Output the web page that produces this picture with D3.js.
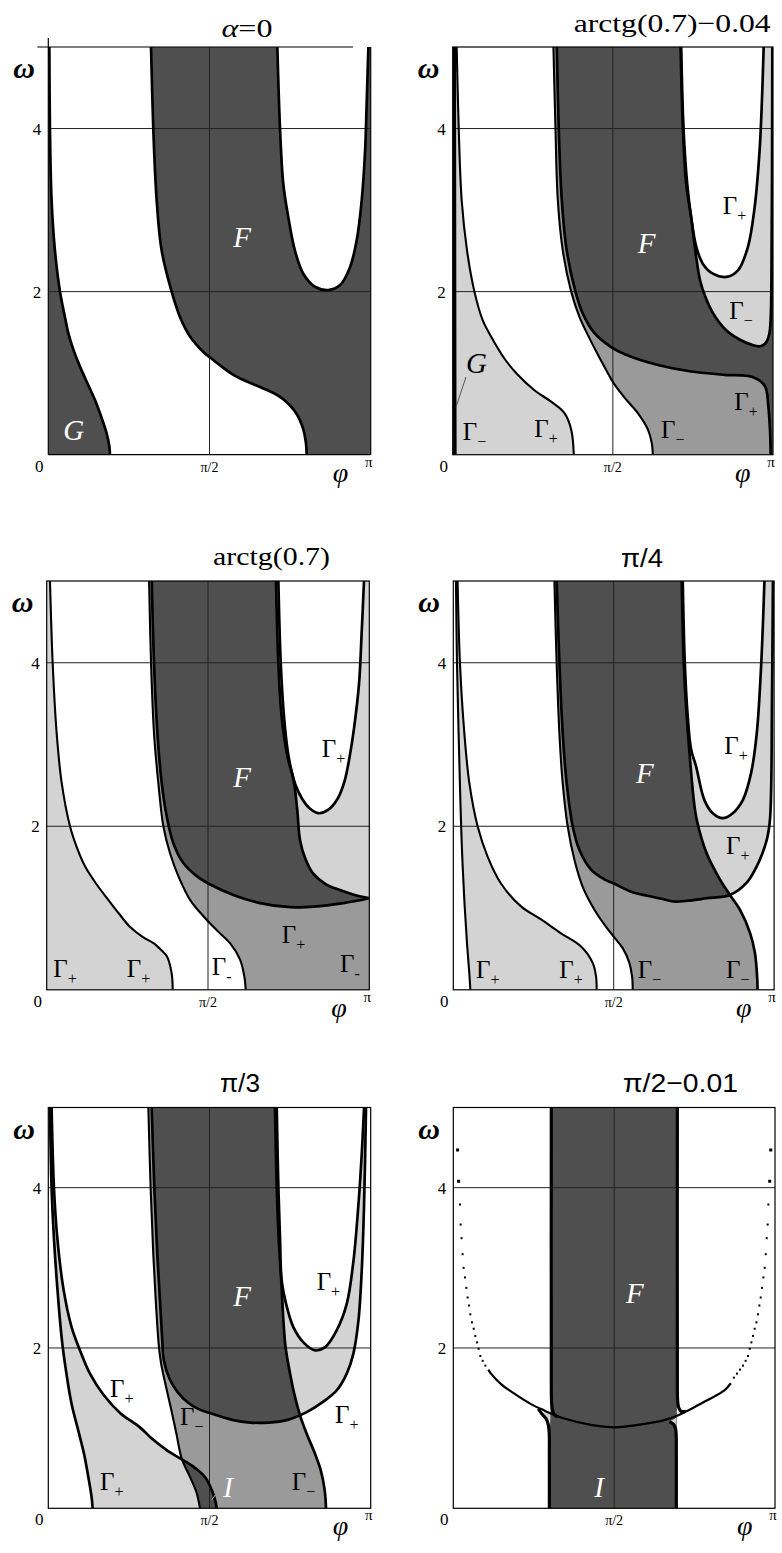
<!DOCTYPE html>
<html><head><meta charset="utf-8">
<script src="https://cdn.jsdelivr.net/npm/d3@7"></script>
<style>body{margin:0;background:#fff}</style>
</head><body>
<svg id="chart" width="782" height="1553" xmlns="http://www.w3.org/2000/svg"></svg>
<script>
const PI = Math.PI;

// ---------- data: curves as [phi, omega] ----------
// panel 1 : alpha = 0
const p1A = [[0.010,5.0],[0.016,4.0],[0.032,3.12],[0.065,2.5],[0.114,2.0],[0.162,1.69],[0.195,1.49],[0.247,1.28],[0.309,1.08],[0.380,0.88],[0.455,0.67],[0.520,0.45],[0.569,0.26],[0.595,0.10],[0.601,0]];
const p1B = [[1.001,5.0],[1.023,4.0],[1.056,3.12],[1.105,2.5],[1.202,2.0],[1.283,1.69],[1.381,1.45],[1.511,1.26],[1.569,1.20],[1.690,1.08],[1.803,0.98],[1.930,0.90],[2.063,0.83],[2.190,0.76],[2.290,0.68],[2.420,0.50],[2.485,0.31],[2.510,0.15],[2.518,0]];
const p1C = [[2.232,5.0],[2.258,4.0],[2.290,3.32],[2.339,2.91],[2.404,2.5],[2.485,2.22],[2.599,2.06],[2.729,2.02],[2.843,2.08],[2.940,2.30],[3.005,2.63],[3.054,3.12],[3.087,3.73],[3.103,4.34],[3.119,5.0]];
// panel 2 : arctg(0.7)-0.04
const p2G  = [[0.016,5.0],[0.018,3.0],[0.020,1.0],[0.022,0]];
const p2A  = [[0.039,5.0],[0.059,4.0],[0.088,3.12],[0.141,2.5],[0.213,2.0],[0.294,1.65],[0.376,1.45],[0.507,1.18],[0.638,0.98],[0.802,0.79],[0.965,0.65],[1.096,0.51],[1.162,0.31],[1.188,0]];
const p2B  = [[0.988,5.0],[1.008,4.0],[1.031,3.12],[1.080,2.5],[1.162,2.0],[1.243,1.69],[1.325,1.47],[1.423,1.23],[1.505,1.04],[1.577,0.88],[1.685,0.70],[1.816,0.51],[1.914,0.31],[1.953,0.14],[1.963,0]];
const p2Bf = [[1.021,5.0],[1.040,4.0],[1.070,3.12],[1.119,2.5],[1.204,2.0],[1.276,1.73],[1.391,1.49],[1.554,1.32],[1.751,1.20],[2.012,1.10],[2.339,1.02],[2.667,0.98],[2.948,0.95],[3.063,0.84],[3.096,0.59],[3.112,0.31],[3.119,0]];
const p2D  = [[2.235,5.0],[2.258,4.0],[2.290,3.32],[2.339,2.91],[2.380,2.5],[2.426,2.14],[2.480,1.93],[2.556,1.73],[2.680,1.53],[2.818,1.41],[2.930,1.35],[3.014,1.33],[3.070,1.37],[3.105,1.48],[3.120,1.70],[3.127,2.30],[3.132,3.5],[3.135,5.0]];
const p2C  = [[2.241,5.0],[2.264,4.0],[2.300,3.32],[2.339,2.91],[2.389,2.55],[2.454,2.34],[2.552,2.22],[2.683,2.18],[2.798,2.26],[2.896,2.55],[2.961,3.03],[3.010,3.73],[3.033,4.34],[3.050,5.0]];
// panel 3 : arctg(0.7)
const p3A  = [[0.032,5.0],[0.058,4.0],[0.097,3.14],[0.146,2.53],[0.227,2.0],[0.300,1.72],[0.373,1.51],[0.480,1.30],[0.600,1.10],[0.705,0.93],[0.810,0.77],[0.930,0.65],[1.040,0.57],[1.120,0.48],[1.170,0.41],[1.217,0.20],[1.227,0]];
const p3B  = [[0.997,5.0],[1.016,4.0],[1.045,3.14],[1.087,2.53],[1.136,2.0],[1.201,1.67],[1.282,1.39],[1.396,1.10],[1.526,0.90],[1.655,0.73],[1.785,0.57],[1.883,0.37],[1.925,0.16],[1.938,0]];
const p3Bf = [[1.023,5.0],[1.045,4.0],[1.078,3.14],[1.120,2.53],[1.169,2.12],[1.234,1.79],[1.331,1.55],[1.461,1.39],[1.574,1.30],[1.818,1.16],[2.077,1.06],[2.370,1.01],[2.629,1.02],[2.889,1.06],[3.142,1.12]];
const p3D  = [[2.233,5.0],[2.256,4.0],[2.288,3.34],[2.345,2.85],[2.405,2.56],[2.440,2.20],[2.467,1.83],[2.520,1.60],[2.596,1.42],[2.720,1.29],[2.856,1.22],[3.000,1.16],[3.142,1.12]];
const p3C  = [[2.256,5.0],[2.279,4.0],[2.311,3.34],[2.345,2.94],[2.380,2.70],[2.425,2.50],[2.490,2.33],[2.560,2.22],[2.646,2.16],[2.740,2.20],[2.830,2.33],[2.900,2.55],[2.950,2.85],[2.993,3.20],[3.042,3.75],[3.067,4.36],[3.090,5.0]];
// panel 4 : pi/4
const p4Al = [[0.026,5.0],[0.036,4.0],[0.052,3.14],[0.069,2.32],[0.085,1.71],[0.108,1.10],[0.134,0.57],[0.157,0.20],[0.167,0]];
const p4A  = [[0.042,5.0],[0.065,4.0],[0.108,3.14],[0.157,2.53],[0.238,2.0],[0.336,1.63],[0.467,1.30],[0.663,1.02],[0.859,0.86],[1.055,0.69],[1.251,0.53],[1.365,0.33],[1.398,0.16],[1.404,0]];
const p4B  = [[0.990,5.0],[1.012,4.0],[1.039,3.14],[1.071,2.53],[1.120,2.0],[1.186,1.59],[1.267,1.26],[1.382,0.98],[1.496,0.77],[1.571,0.65],[1.659,0.51],[1.724,0.33],[1.751,0.16],[1.757,0]];
const p4E  = [[1.012,5.0],[1.039,4.0],[1.071,3.14],[1.110,2.53],[1.169,2.0],[1.235,1.71],[1.349,1.47],[1.480,1.35],[1.571,1.30],[1.741,1.20],[1.900,1.15],[2.050,1.11],[2.154,1.08],[2.300,1.09],[2.481,1.12],[2.709,1.16],[2.873,1.31],[2.987,1.55],[3.069,1.83],[3.101,2.08],[3.121,3.55],[3.130,5.0]];
const p4D  = [[2.237,5.0],[2.257,4.0],[2.286,3.34],[2.319,2.81],[2.355,2.32],[2.384,2.08],[2.481,1.67],[2.611,1.35],[2.709,1.16],[2.807,0.98],[2.905,0.70],[2.954,0.45],[2.977,0.12],[2.979,0]];
const p4C  = [[2.247,5.0],[2.267,4.0],[2.296,3.34],[2.329,2.94],[2.378,2.73],[2.459,2.32],[2.541,2.16],[2.639,2.10],[2.737,2.16],[2.835,2.32],[2.916,2.65],[2.972,3.14],[3.014,3.95],[3.047,5.0]];
// panel 5 : pi/3
const p5Al = [[0.016,5.0],[0.032,4.0],[0.055,3.37],[0.088,2.75],[0.130,2.13],[0.172,1.72],[0.227,1.30],[0.292,0.97],[0.348,0.68],[0.390,0.39],[0.422,0.14],[0.432,0]];
const p5A  = [[0.032,5.0],[0.055,4.0],[0.088,3.37],[0.146,2.75],[0.227,2.26],[0.309,1.97],[0.406,1.68],[0.536,1.42],[0.699,1.19],[0.893,1.01],[1.000,0.88],[1.150,0.73],[1.313,0.60],[1.413,0.52],[1.527,0.39],[1.592,0.23],[1.630,0.08],[1.641,0]];
const p5B  = [[0.975,5.0],[0.997,4.0],[1.023,3.17],[1.049,2.55],[1.079,2.0],[1.100,1.80],[1.150,1.50],[1.200,1.22],[1.250,0.92],[1.300,0.62],[1.381,0.39],[1.446,0.19],[1.478,0]];
const p5E  = [[1.007,5.0],[1.033,4.0],[1.062,3.17],[1.090,2.55],[1.110,2.1],[1.125,1.85],[1.180,1.62],[1.260,1.45],[1.360,1.32],[1.460,1.24],[1.569,1.19],[1.803,1.10],[1.965,1.07],[2.150,1.07],[2.323,1.10],[2.518,1.20],[2.680,1.33],[2.810,1.47],[2.908,1.68],[2.973,1.93],[3.022,2.34],[3.054,2.96],[3.077,3.79],[3.096,5.0]];
const p5D  = [[2.209,5.0],[2.226,4.0],[2.245,3.37],[2.274,2.75],[2.291,2.34],[2.313,2.0],[2.356,1.68],[2.404,1.39],[2.453,1.16],[2.518,0.93],[2.599,0.68],[2.654,0.48],[2.693,0.23],[2.706,0]];
const p5C  = [[2.226,5.0],[2.242,4.0],[2.258,3.37],[2.274,2.84],[2.317,2.55],[2.388,2.26],[2.486,2.07],[2.599,1.97],[2.697,2.01],[2.810,2.22],[2.908,2.55],[2.973,3.08],[3.022,3.79],[3.054,4.41],[3.077,5.0]];
// panel 6 : pi/2-0.01
const p6DotsL = [[0.042,4.47],[0.052,4.08],[0.065,3.79],[0.072,3.54],[0.081,3.37],[0.091,3.17],[0.101,3.00],[0.114,2.88],[0.127,2.75],[0.140,2.63],[0.153,2.53],[0.166,2.42],[0.182,2.32],[0.199,2.24],[0.215,2.15],[0.231,2.07],[0.247,1.99],[0.264,1.90],[0.287,1.84],[0.313,1.78]];
const p6DotsR = [[3.100,4.47],[3.090,4.08],[3.077,3.79],[3.070,3.54],[3.061,3.37],[3.051,3.17],[3.041,3.00],[3.028,2.88],[3.015,2.75],[3.002,2.63],[2.989,2.53],[2.976,2.42],[2.960,2.32],[2.943,2.24],[2.927,2.15],[2.911,2.07],[2.895,1.99],[2.878,1.90],[2.855,1.84],[2.829,1.78],[2.800,1.73],[2.770,1.68],[2.740,1.63]];
const p6U  = [[0.342,1.73],[0.368,1.68],[0.466,1.55],[0.596,1.43],[0.759,1.30],[0.889,1.22],[0.957,1.18],[1.084,1.12],[1.345,1.04],[1.573,1.01],[1.801,1.04],[2.061,1.10],[2.198,1.16],[2.322,1.24],[2.484,1.35],[2.647,1.47],[2.710,1.56]];
const p6LU = [[0.957,5.0],[0.957,1.60],[0.959,1.35],[0.966,1.24],[0.985,1.17],[1.020,1.14]];
const p6LL = [[0.938,0],[0.938,0.70],[0.937,0.93],[0.928,1.04],[0.905,1.12],[0.870,1.17],[0.830,1.24]];
const p6RU = [[2.188,5.0],[2.188,1.60],[2.190,1.36],[2.200,1.26],[2.225,1.21],[2.270,1.21]];
const p6RL = [[2.178,0],[2.178,0.70],[2.177,0.90],[2.170,1.00],[2.150,1.05],[2.110,1.08]];
const p6WL = [[0.937,0.93],[0.928,1.04],[0.905,1.12],[0.870,1.17],[0.889,1.22],[0.945,1.19]];
const p6WR = [[2.177,0.90],[2.170,1.00],[2.150,1.05],[2.110,1.08],[2.178,1.13]];
const p6WU = [[2.190,1.36],[2.200,1.26],[2.225,1.21],[2.270,1.21],[2.198,1.17]];

// ---------- texts ----------
const titles = ['α=0', 'arctg(0.7)−0.04', 'arctg(0.7)', 'π/4', 'π/3', 'π/2−0.01'];
const yTickValues = [2, 4];
const xTickValues = [0, PI/2];
const xTickText = ['0', 'π/2'];

// ---------- layout (pixels) ----------
const layouts = [
  {L:48.3, R:370.7, T:47,    B:454.7},
  {L:452.7,R:773,   T:47,    B:454.7},
  {L:46.7, R:369.3, T:581,   B:989.8},
  {L:453.3,R:774.1, T:581,   B:989.8},
  {L:48.3, R:370.7, T:1107.5,B:1508.3},
  {L:453.3,R:775,   T:1107.5,B:1508.3}
];
const titleStyle = [
  {dx:198.7, dy:-10, anchor:'middle', w:51, font:'serif'},
  {dx:318,   dy:-15, anchor:'end',    w:197, font:'serif'},
  {dx:166.3, dy:-16, anchor:'start',  w:117, font:'serif'},
  {dx:188.7, dy:-14, anchor:'middle', w:42, font:'sans'},
  {dx:191.7, dy:-16, anchor:'middle', w:40, font:'sans'},
  {dx:227.2, dy:-16, anchor:'middle', w:115, font:'sans'}
];

const DARK = '#4f4f4f', MED = '#9a9a9a', LIGHT = '#d3d3d3', WHITE = '#ffffff';
const SERIF = "'Liberation Serif','Times New Roman',serif";
const SANS = "'Liberation Sans',Arial,sans-serif";
const TH = 2.7, TN = 2.1; // thick / normal curve widths

const G = (sub, at) => ({t:'Γ', sub, at});
const panels = [
  { fills:[ {shape:'leftOf',args:[p1A],color:DARK}, {shape:'rightOf',args:[p1B],color:DARK}, {shape:'inside',args:[p1C],color:WHITE} ],
    strokes:[[p1A,TH],[p1B,TH],[p1C,TH]],
    labels:[ {t:'F',at:[1.802,2.551],white:true}, {t:'G',at:[0.146,0.18],white:true} ] },
  { fills:[ {shape:'leftOf',args:[p2A],color:LIGHT}, {shape:'leftOf',args:[p2G],color:DARK}, {shape:'rightOf',args:[p2B],color:MED},
            {shape:'rightOf',args:[p2Bf],color:DARK}, {shape:'inside',args:[p2D],color:LIGHT}, {shape:'inside',args:[p2C],color:WHITE} ],
    strokes:[[p2G,3.4],[p2A,TN],[p2B,TN],[p2Bf,TH],[p2D,TH],[p2C,TH]],
    leader:[[0.130,0.953],[0.032,0.581]],
    labels:[ {t:'F',at:[1.815,2.474],white:true}, G('+',[2.648,2.958]), G('−',[2.713,1.670]), G('−',[0.098,0.180]),
             G('+',[0.800,0.217]), G('−',[2.043,0.199]), G('+',[2.762,0.548]), {t:'G',at:[0.130,1.002],white:false} ] },
  { fills:[ {shape:'leftOf',args:[p3A],color:LIGHT}, {shape:'rightOf',args:[p3B],color:MED}, {shape:'above',args:[p3Bf],color:DARK},
            {shape:'above',args:[p3D],color:LIGHT}, {shape:'inside',args:[p3C],color:WHITE} ],
    strokes:[[p3A,TN],[p3B,TN],[p3Bf,TH],[p3D,TH],[p3C,TH]],
    labels:[ {t:'F',at:[1.817,2.484],white:true}, G('+',[2.678,2.847]), G('+',[0.064,0.157]), G('+',[0.779,0.157]),
             G('-',[1.607,0.181]), G('+',[2.289,0.572]), G('-',[2.856,0.218]) ] },
  { fills:[ {shape:'between',args:[p4Al,p4A],color:LIGHT}, {shape:'between',args:[p4B,p4D],color:MED}, {shape:'inside',args:[p4E],color:LIGHT},
            {shape:'inside',args:[p4E],color:DARK,clip:{shape:'leftOf',args:[p4D]}}, {shape:'inside',args:[p4C],color:WHITE} ],
    strokes:[[p4Al,TN],[p4A,TN],[p4B,TN],[p4E,TH],[p4D,TH],[p4C,TH]],
    labels:[ {t:'F',at:[1.789,2.529],white:true}, G('+',[2.654,2.884]), G('+',[2.671,1.661]), G('+',[0.222,0.144]),
             G('+',[1.038,0.144]), G('−',[1.806,0.144]), G('−',[2.671,0.144]) ] },
  { fills:[ {shape:'between',args:[p5Al,p5A],color:LIGHT}, {shape:'between',args:[p5B,p5D],color:MED},
            {shape:'between',args:[p5B,p5D],color:DARK,clip:{shape:'between',args:[p5Al,p5A]}},
            {shape:'inside',args:[p5E],color:LIGHT}, {shape:'inside',args:[p5E],color:DARK,clip:{shape:'leftOf',args:[p5D]}},
            {shape:'inside',args:[p5C],color:WHITE} ],
    strokes:[[p5Al,TH],[p5A,TH],[p5B,TN],[p5E,TH],[p5D,TH],[p5C,TH]],
    leader:[[1.738,0.374],[1.592,0.104]],
    labels:[ {t:'F',at:[1.803,2.524],white:true}, G('+',[2.615,2.723]), G('+',[0.601,1.39]), G('−',[1.283,1.039]),
             G('+',[2.794,1.064]), {t:'I',at:[1.705,0.145],white:true}, G('+',[0.504,0.228]), G('−',[2.372,0.228]) ] },
  { fills:[ {shape:'poly',args:[[p6LU[0],p6LU[1],p6LL[1],p6LL[0],p6RL[0],p6RL[1],p6RU[1],p6RU[0]]],color:DARK},
            {shape:'poly',args:[p6WL],color:LIGHT}, {shape:'poly',args:[p6WR],color:LIGHT}, {shape:'poly',args:[p6WU],color:LIGHT} ],
    strokes:[[p6LU,3.2],[p6LL,3.2],[p6RU,3.2],[p6RL,3.2],[p6U,2.2]],
    dots:[p6DotsL, p6DotsR],
    labels:[ {t:'F',at:[1.686,2.561],white:true}, {t:'I',at:[1.377,0.145],white:true} ] }
];

// ---------- drawing ----------
const svg = d3.select('#chart');
const defs = svg.append('defs');
svg.append('rect').attr('width',782).attr('height',1553).attr('fill','#fff');

panels.forEach((p, i) => {
  const lay = layouts[i];
  const x = d3.scaleLinear().domain([0, PI]).range([lay.L, lay.R]);
  const y = d3.scaleLinear().domain([0, 5]).range([lay.B, lay.T]);
  const line = d3.line().x(d => x(d[0])).y(d => y(d[1])).curve(d3.curveCatmullRom.alpha(0.5));
  const seg = pts => line(pts).slice(1);
  const P = (a, b) => x(a) + ',' + y(b);
  const shapes = {
    leftOf: c => 'M' + P(0,5) + 'L' + seg(c) + 'L' + P(0,0) + 'Z',
    rightOf: c => 'M' + seg(c) + 'L' + P(PI,0) + 'L' + P(PI,5) + 'Z',
    above: c => 'M' + seg(c) + 'L' + P(PI,5) + 'Z',
    inside: c => 'M' + seg(c) + 'Z',
    between: (a, b) => 'M' + seg(a) + 'L' + seg(b.slice().reverse()) + 'Z',
    poly: c => 'M' + c.map(d => P(d[0], d[1])).join('L') + 'Z'
  };
  const fid = 'frame' + i;
  defs.append('clipPath').attr('id', fid).append('rect')
    .attr('x', lay.L).attr('y', lay.T).attr('width', lay.R - lay.L).attr('height', lay.B - lay.T);
  const g = svg.append('g');
  const inner = g.append('g').attr('clip-path', `url(#${fid})`);

  p.fills.forEach((f, j) => {
    let host = inner;
    if (f.clip) {
      const cid = `c${i}_${j}`;
      defs.append('clipPath').attr('id', cid).append('path').attr('d', shapes[f.clip.shape](...f.clip.args));
      host = inner.append('g').attr('clip-path', `url(#${cid})`);
    }
    host.append('path').attr('d', shapes[f.shape](...f.args)).attr('fill', f.color);
  });

  // grid
  yTickValues.forEach(v => inner.append('line').attr('x1', lay.L).attr('x2', lay.R).attr('y1', y(v)).attr('y2', y(v))
    .attr('stroke', '#222').attr('stroke-width', 1));
  inner.append('line').attr('x1', x(PI/2)).attr('x2', x(PI/2)).attr('y1', lay.T).attr('y2', lay.B)
    .attr('stroke', '#222').attr('stroke-width', 1);

  // curves
  p.strokes.forEach(([c, w]) => inner.append('path').attr('d', line(c)).attr('fill', 'none')
    .attr('stroke', '#000').attr('stroke-width', w).attr('stroke-linejoin', 'round'));

  if (p.dots) {
    p.dots.forEach(arr => arr.forEach((d, k) => {
      const s = k < 2 ? 3 : 2;
      inner.append('rect').attr('x', x(d[0]) - s/2).attr('y', y(d[1]) - s/2).attr('width', s).attr('height', s).attr('fill', '#000');
    }));
  }

  if (p.leader) {
    inner.append('line').attr('x1', x(p.leader[0][0])).attr('y1', y(p.leader[0][1]))
      .attr('x2', x(p.leader[1][0])).attr('y2', y(p.leader[1][1]))
      .attr('stroke', i === 1 ? '#555' : '#999').attr('stroke-width', 1);
  }

  // labels
  p.labels.forEach(lb => {
    const t = inner.append('text').attr('x', x(lb.at[0])).attr('y', y(lb.at[1])).attr('font-family', SERIF);
    if (lb.t === 'Γ') {
      t.attr('font-size', 25).attr('fill', '#000');
      t.append('tspan').text('Γ');
      t.append('tspan').attr('font-size', 16).attr('dy', 7).text(lb.sub);
    } else {
      t.attr('font-size', 29).attr('font-style', 'italic').attr('fill', lb.white ? '#fff' : '#000').text(lb.t);
    }
  });

  // frame
  if (i === 0) {
    g.append('line').attr('x1', lay.L).attr('x2', lay.L).attr('y1', lay.T - 9).attr('y2', lay.B).attr('stroke', '#000').attr('stroke-width', 1.2);
    g.append('line').attr('x1', lay.L - 11).attr('x2', 353).attr('y1', lay.T).attr('y2', lay.T).attr('stroke', '#000').attr('stroke-width', 1.2);
    g.append('line').attr('x1', lay.R).attr('x2', lay.R).attr('y1', lay.T).attr('y2', lay.B).attr('stroke', '#000').attr('stroke-width', 1.2);
    g.append('line').attr('x1', lay.L).attr('x2', lay.R).attr('y1', lay.B).attr('y2', lay.B).attr('stroke', '#000').attr('stroke-width', 1.2);
  } else {
    g.append('rect').attr('x', lay.L).attr('y', lay.T).attr('width', lay.R - lay.L).attr('height', lay.B - lay.T)
      .attr('fill', 'none').attr('stroke', '#000').attr('stroke-width', 1.2);
  }

  // title
  const ts = titleStyle[i];
  const tt = g.append('text').attr('x', lay.L + ts.dx).attr('y', lay.T + ts.dy).attr('text-anchor', ts.anchor)
    .attr('font-family', ts.font === 'sans' ? SANS : SERIF).attr('font-size', 26)
    .attr('textLength', ts.w).attr('lengthAdjust', 'spacingAndGlyphs').attr('fill', '#000');
  if (i === 0) {
    tt.append('tspan').attr('font-style', 'italic').text('α');
    tt.append('tspan').text('=0');
  } else tt.text(titles[i]);

  // axis names
  g.append('text').attr('x', lay.L - 35).attr('y', lay.T + 31).attr('font-family', SERIF).attr('font-size', 30)
    .attr('font-style', 'italic').attr('font-weight', 'bold').text('ω');
  g.append('text').attr('x', lay.R - 38).attr('y', lay.B + 27).attr('font-family', SERIF).attr('font-size', 28)
    .attr('font-style', 'italic').text('φ');
  g.append('text').attr('x', x(PI) - 2).attr('y', lay.B + 12).attr('font-family', SERIF).attr('font-size', 15)
    .attr('text-anchor', 'middle').text('π');

  // tick labels
  yTickValues.forEach(v => g.append('text').attr('x', lay.L - 7).attr('y', y(v) + 6).attr('text-anchor', 'end')
    .attr('font-family', SERIF).attr('font-size', 17).text(String(v)));
  xTickValues.forEach((v, k) => g.append('text').attr('x', k === 0 ? x(v) - 9 : x(v)).attr('y', lay.B + 17)
    .attr('text-anchor', 'middle').attr('font-family', SERIF).attr('font-size', k === 0 ? 17 : 14).text(xTickText[k]));
});
</script>
</body></html>
